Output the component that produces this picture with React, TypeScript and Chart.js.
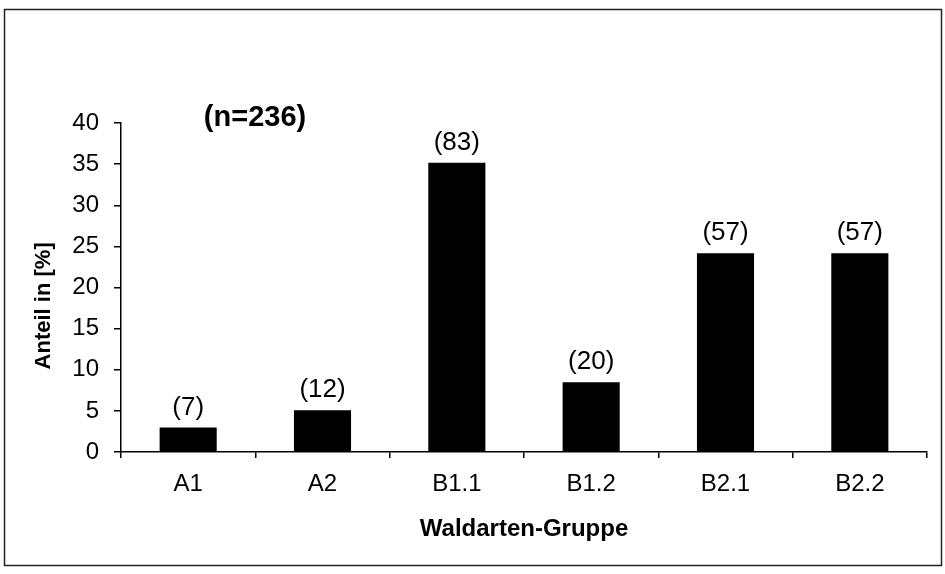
import React, { useEffect, useRef } from "react";
import { Chart, registerables } from "chart.js";

Chart.register(...registerables);

const categories = ["A1", "A2", "B1.1", "B1.2", "B2.1", "B2.2"];
const counts = [7, 12, 83, 20, 57, 57];
const percentValues = [2.97, 5.08, 35.17, 8.47, 24.15, 24.15];
const totalLabel = "(n=236)";
const yTitle = "Anteil in [%]";
const xTitle = "Waldarten-Gruppe";

const FONT = "'Liberation Sans', Arial, sans-serif";

const annotationPlugin = {
  id: "annotations",
  afterDraw(chart: any) {
    const ctx = chart.ctx;
    const area = chart.chartArea;
    const meta = chart.getDatasetMeta(0);
    ctx.save();
    ctx.fillStyle = "#000";
    ctx.textAlign = "center";
    ctx.textBaseline = "alphabetic";
    ctx.font = `26px ${FONT}`;
    meta.data.forEach((bar: any, i: number) => {
      ctx.fillText(`(${counts[i]})`, bar.x, bar.y - 13);
    });
    ctx.font = `bold 29px ${FONT}`;
    ctx.fillText(totalLabel, area.left + 134, area.top + 3);
    // frame
    ctx.strokeStyle = "#222";
    ctx.lineWidth = 1.5;
    ctx.strokeRect(4.5, 9.5, 937, 556);
    ctx.restore();
  },
};

export default function App() {
  const ref = useRef<HTMLCanvasElement | null>(null);
  useEffect(() => {
    if (!ref.current) return;
    const chart = new Chart(ref.current, {
      type: "bar",
      data: {
        labels: categories,
        datasets: [
          {
            data: percentValues,
            backgroundColor: "#000",
            borderWidth: 0,
            barPercentage: 0.85,
            categoryPercentage: 0.5,
          },
        ],
      },
      options: {
        responsive: false,
        animation: false,
        layout: { padding: { top: 123, right: 18, left: 0, bottom: 0 } },
        plugins: { legend: { display: false }, tooltip: { enabled: false } },
        scales: {
          x: {
            afterFit(scale: any) {
              scale.height = 122;
            },
            grid: {
              offset: true,
              drawOnChartArea: false,
              drawTicks: true,
              tickLength: 6,
              color: "#000",
              lineWidth: 1.5,
            },
            border: { display: true, color: "#000", width: 1.5 },
            ticks: {
              color: "#000",
              font: { family: FONT, size: 24 },
              padding: 12,
              maxRotation: 0,
            },
            title: {
              display: true,
              text: xTitle,
              color: "#000",
              font: { family: FONT, size: 24, weight: "bold" },
              padding: { top: 0, bottom: 30 },
            },
          },
          y: {
            min: 0,
            max: 40,
            afterFit(scale: any) {
              scale.width = 121;
            },
            grid: {
              drawOnChartArea: false,
              drawTicks: true,
              tickLength: 7,
              color: "#000",
              lineWidth: 1.5,
            },
            border: { display: true, color: "#000", width: 1.5 },
            ticks: {
              stepSize: 5,
              color: "#000",
              font: { family: FONT, size: 24 },
              padding: 15,
            },
            title: {
              display: true,
              text: yTitle + "      ",
              color: "#000",
              font: { family: FONT, size: 22, weight: "bold" },
              padding: { top: 31, bottom: 0 },
            },
          },
        },
      },
      plugins: [annotationPlugin],
    });
    return () => chart.destroy();
  }, []);
  return (
    <div style={{ position: "absolute", left: 0, top: 0, width: 945, height: 574, background: "#fff" }}>
      <canvas ref={ref} width={945} height={574} style={{ display: "block" }} />
    </div>
  );
}
